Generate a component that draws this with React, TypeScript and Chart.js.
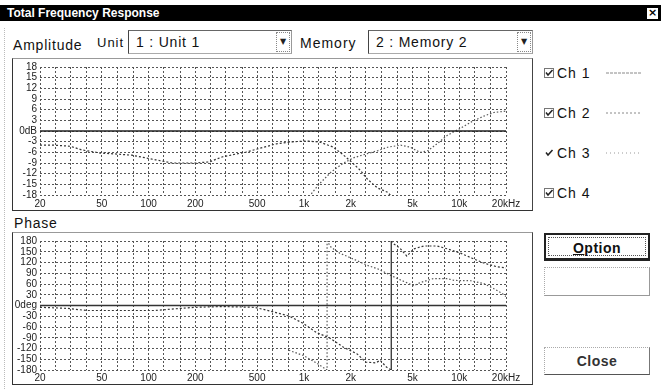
import React, { useEffect, useRef } from "react";
import { Chart, registerables } from "chart.js";

Chart.register(...registerables);

// ---------------- data ----------------
const gridFreqs = [20, 25, 31.5, 40, 50, 63, 80, 100, 125, 160, 200, 250, 315, 400, 500, 630, 800, 1000, 1250, 1600, 2000, 2500, 3150, 4000, 5000, 6300, 8000, 10000, 12500, 16000, 20000];
const freqTickFreqs = [20, 50, 100, 200, 500, 1000, 2000, 5000, 10000, 20000];
const freqTickLabels = ["20", "50", "100", "200", "500", "1k", "2k", "5k", "10k", "20kHz"];

const ampTicks = [18, 15, 12, 9, 6, 3, 0, -3, -6, -9, -12, -15, -18];
const ampTickLabels = ["18", "15", "12", "9", "6", "3", "0dB", "-3", "-6", "-9", "-12", "-15", "-18"];
const phaseTicks = [180, 150, 120, 90, 60, 30, 0, -30, -60, -90, -120, -150, -180];
const phaseTickLabels = ["180", "150", "120", "90", "60", "30", "0deg", "-30", "-60", "-90", "-120", "-150", "-180"];

// Amplitude (dB)
const ch1AmpFreq = [20, 20000];
const ch1AmpDb = [0, 0];
const ch2AmpFreq = [20, 25, 31.5, 37, 49, 63, 78, 111, 142, 200, 246, 297, 426, 666, 811, 1040, 1260, 1540, 1790, 2000, 2300, 2560, 2970, 3450, 4180];
const ch2AmpDb = [-4, -4, -4.3, -5.3, -6.2, -6.5, -6.8, -8.1, -9, -9, -8.7, -7.3, -5.9, -3.6, -3.1, -2.8, -3.1, -4.5, -6.7, -8.5, -11, -13.5, -16, -17.2, -21];
const ch3AmpFreq = [1000, 1100, 1250, 1500, 1800, 2100, 2500, 3000, 3500, 4200, 4800, 5600, 6300, 7000, 8400, 10200, 11900, 14400, 16700, 20000];
const ch3AmpDb = [-21, -18, -15, -11.5, -9, -7.5, -6.5, -5.5, -4.5, -4, -4.5, -6, -5.5, -4, -1.2, 0.8, 2.5, 4.2, 5.2, 5.6];

// Phase (deg)
const ch1PhaseFreq = [20, 20000];
const ch1PhaseDeg = [0, 0];
const ch2PhaseFreq = [20, 30, 40, 50, 80, 110, 150, 200, 300, 480, 600, 810, 990, 1200, 1470, 1790, 2200, 2500, 2900, 3100, 3400, 3650, 3650, 3700, 4150, 4600, 5100, 5900, 7200, 8400, 10200, 12100, 14500, 17500, 20000];
const ch2PhaseDeg = [-5, -8, -14, -14, -14, -14, -9, -5, -3, -5, -15, -30, -50, -75, -91, -116, -135, -158, -160, -153, -172, -180, 180, 175, 160, 138, 158, 166, 166, 158, 146, 132, 118, 108, 105];
const ch3PhaseFreq = [800, 1000, 1200, 1410, 1410, 1500, 1700, 2000, 2200, 2600, 3000, 4000, 5100, 5600, 6800, 8400, 9300, 11900, 14400, 16700, 19000, 20000];
const ch3PhaseDeg = [-125, -140, -160, -180, 180, 162, 146, 133, 125, 111, 102, 75, 55, 64, 75, 75, 70, 69, 61, 47, 33, 25];

// ---------------- helpers ----------------
const uiFont = '"Liberation Sans", Arial, Helvetica, sans-serif';

function pts(xs: number[], ys: number[]) {
  return xs.map((x, i) => ({ x, y: ys[i] }));
}

function buildOptions(yTicks: number[], yLabels: string[], padTop: number, xHeight: number, xPad: number): any {
  const asc = yTicks.slice().sort((a, b) => a - b);
  const yMin = asc[0];
  const yMax = asc[asc.length - 1];
  const tickFont = { family: uiFont, size: 10 };
  return {
    responsive: true,
    maintainAspectRatio: false,
    animation: false,
    layout: { padding: { left: 0, right: 27, top: padTop, bottom: 0 } },
    plugins: { legend: { display: false }, tooltip: { enabled: false }, title: { display: false } },
    elements: { point: { radius: 0 }, line: { tension: 0 } },
    scales: {
      x: {
        type: "logarithmic",
        min: 20,
        max: 20000,
        afterBuildTicks: (s: any) => {
          s.ticks = gridFreqs.map((v) => ({ value: v }));
        },
        afterFit: (s: any) => {
          s.height = xHeight;
        },
        ticks: {
          autoSkip: false,
          maxRotation: 0,
          minRotation: 0,
          padding: xPad,
          color: "#222",
          font: tickFont,
          callback: (v: any) => {
            const i = freqTickFreqs.indexOf(Number(v));
            return i >= 0 ? freqTickLabels[i] : "";
          },
        },
        grid: { color: "#555", lineWidth: 1, drawTicks: false },
        border: { display: false, dash: [2, 2] },
      },
      y: {
        type: "linear",
        min: yMin,
        max: yMax,
        afterBuildTicks: (s: any) => {
          s.ticks = asc.map((v) => ({ value: v }));
        },
        afterFit: (s: any) => {
          s.width = 28;
        },
        ticks: {
          autoSkip: false,
          padding: 3,
          color: "#222",
          font: tickFont,
          callback: (v: any) => {
            const i = yTicks.indexOf(Number(v));
            return i >= 0 ? yLabels[i] : "";
          },
        },
        grid: { color: "#555", lineWidth: 1, drawTicks: false },
        border: { display: false, dash: [2, 2] },
      },
    },
  };
}

function AmpChart() {
  const ref = useRef<HTMLCanvasElement>(null);
  useEffect(() => {
    const chart = new Chart(ref.current as HTMLCanvasElement, {
      type: "line",
      data: {
        datasets: [
          { label: "Ch 1", data: pts(ch1AmpFreq, ch1AmpDb), borderColor: "#222", borderWidth: 1.5, pointRadius: 0 },
          { label: "Ch 2", data: pts(ch2AmpFreq, ch2AmpDb), borderColor: "#333", borderWidth: 1.2, borderDash: [2, 2], pointRadius: 0 },
          { label: "Ch 3", data: pts(ch3AmpFreq, ch3AmpDb), borderColor: "#555", borderWidth: 1.2, borderDash: [1.5, 2], pointRadius: 0 },
        ] as any,
      },
      options: buildOptions(ampTicks, ampTickLabels, 9, 16, 3),
    });
    return () => chart.destroy();
  }, []);
  return <canvas ref={ref} />;
}

function PhaseChart() {
  const ref = useRef<HTMLCanvasElement>(null);
  useEffect(() => {
    const chart = new Chart(ref.current as HTMLCanvasElement, {
      type: "line",
      data: {
        datasets: [
          { label: "Ch 1", data: pts(ch1PhaseFreq, ch1PhaseDeg), borderColor: "#333", borderWidth: 1.5, pointRadius: 0 },
          {
            label: "Ch 2",
            data: pts(ch2PhaseFreq, ch2PhaseDeg),
            borderColor: "#333",
            borderWidth: 1.2,
            borderDash: [2, 2],
            pointRadius: 0,
            segment: {
              borderDash: (ctx: any) => (ctx.p0.parsed.x === ctx.p1.parsed.x ? [] : undefined),
              borderColor: (ctx: any) => (ctx.p0.parsed.x === ctx.p1.parsed.x ? "#222" : undefined),
            },
          },
          { label: "Ch 3", data: pts(ch3PhaseFreq, ch3PhaseDeg), borderColor: "#555", borderWidth: 1.2, borderDash: [1.5, 2], pointRadius: 0 },
        ] as any,
      },
      options: buildOptions(phaseTicks, phaseTickLabels, 8, 15, 2),
    });
    return () => chart.destroy();
  }, []);
  return <canvas ref={ref} />;
}

const abs = (left: number, top: number, width?: number, height?: number): React.CSSProperties => ({
  position: "absolute",
  left,
  top,
  width,
  height,
  boxSizing: "border-box",
});

function Label({ text, left, top, size = 14, spacing = 0.8, bold = false }: any) {
  return (
    <div
      style={{
        ...abs(left, top),
        fontFamily: uiFont,
        fontSize: size,
        lineHeight: `${size + 2}px`,
        letterSpacing: spacing,
        fontWeight: bold ? "bold" : "normal",
        color: "#111",
        whiteSpace: "nowrap",
      }}
    >
      {text}
    </div>
  );
}

function Combo({ left, width, text }: any) {
  return (
    <div
      style={{
        ...abs(left, 30, width, 24),
        borderLeft: "1px solid #444",
        borderTop: "1px solid #666",
        borderRight: "1px solid #999",
        borderBottom: "1px solid #aaa",
      }}
    >
      <div style={{ ...abs(7, 3), fontFamily: uiFont, fontSize: 14, lineHeight: "16px", letterSpacing: 0.8, color: "#111", whiteSpace: "nowrap" }}>{text}</div>
      <div
        style={{
          ...abs(width - 17, 1, 14, 20),
          border: "1px dotted #888",
          fontSize: 8,
          lineHeight: "18px",
          textAlign: "center",
          color: "#222",
          fontFamily: "DejaVu Sans",
        }}
      >
        ▼
      </div>
    </div>
  );
}

function CheckItem({ top, text, sample, light }: any) {
  return (
    <>
      <svg style={{ ...abs(544, top - 5, 10, 10) }} width={10} height={10}>
        {!light && <rect x={0.5} y={0.5} width={9} height={9} fill="none" stroke="#777" strokeWidth={1} />}
        <polyline points="2,4.5 4,7 8.5,2" fill="none" stroke="#222" strokeWidth={1.5} />
      </svg>
      <Label text={text} left={557} top={top - 8} size={14} spacing={1} />
      {sample && (
        <svg style={{ ...abs(606, top - 2, 36, 4) }} width={36} height={4}>
          <line x1={0} y1={2} x2={35} y2={2} stroke={sample.color} strokeWidth={1} strokeDasharray={sample.dash} />
        </svg>
      )}
    </>
  );
}

export default function App() {
  return (
    <div style={{ ...abs(0, 0, 661, 389), background: "#fff", overflow: "hidden", fontFamily: uiFont }}>
      {/* left faint edge */}
      <div style={{ ...abs(4, 28, 1, 361), borderLeft: "1px dotted #bbb" }} />
      {/* title bar */}
      <div style={{ ...abs(0, 5, 661, 16), background: "#000" }} />
      <div style={{ ...abs(7, 5), color: "#fff", fontWeight: "bold", fontSize: 12, lineHeight: "16px", fontFamily: uiFont, whiteSpace: "nowrap" }}>
        Total Frequency Response
      </div>
      <div
        style={{
          ...abs(647, 8, 11, 11),
          background: "#fff",
          color: "#000",
          fontSize: 11,
          lineHeight: "10px",
          textAlign: "center",
          fontFamily: "DejaVu Sans",
          fontWeight: "bold",
        }}
      >
        ×
      </div>

      {/* header row */}
      <Label text="Amplitude" left={13} top={37} size={14} spacing={0.8} />
      <Label text="Unit" left={97} top={35} size={13} spacing={1} />
      <Combo left={128} width={164} text="1 : Unit 1" />
      <Label text="Memory" left={300} top={35} size={14} spacing={1} />
      <Combo left={368} width={165} text="2 : Memory 2" />

      {/* amplitude frame + chart */}
      <div style={{ ...abs(12, 58, 521, 153), borderLeft: "1px solid #333", borderBottom: "1px solid #333", borderRight: "1px solid #444", borderTop: "1px solid #999" }} />
      <div style={{ ...abs(12, 58, 521, 153) }}>
        <AmpChart />
      </div>

      {/* phase */}
      <Label text="Phase" left={14} top={215} size={14} spacing={0.8} />
      <div style={{ ...abs(12, 232, 521, 153), borderLeft: "1px solid #333", borderBottom: "1px solid #333", borderRight: "1px solid #444", borderTop: "1px solid #999" }} />
      <div style={{ ...abs(12, 232, 521, 153) }}>
        <PhaseChart />
      </div>

      {/* channel checkboxes */}
      <CheckItem top={73} text="Ch 1" sample={{ color: "#888", dash: "3 1" }} />
      <CheckItem top={113} text="Ch 2" sample={{ color: "#888", dash: "2 2" }} />
      <CheckItem top={153} text="Ch 3" sample={{ color: "#999", dash: "1 3" }} light />
      <CheckItem top={193} text="Ch 4" />

      {/* buttons */}
      <div style={{ ...abs(544, 233, 106, 28), border: "2px solid #222", borderRightWidth: 2, borderBottomWidth: 3 }}>
        <div style={{ ...abs(2, 2, 98, 19), border: "1px dotted #555" }} />
        <div style={{ ...abs(0, 4, 102, 18), textAlign: "center", fontFamily: uiFont, fontWeight: "bold", fontSize: 14, lineHeight: "18px", color: "#111", letterSpacing: 0.5 }}>
          <span style={{ textDecoration: "underline" }}>O</span>ption
        </div>
      </div>
      <div style={{ ...abs(544, 267, 106, 29), border: "1px dotted #aaa", borderRight: "1px solid #999", borderBottom: "1px solid #999" }} />
      <div style={{ ...abs(544, 347, 106, 28), borderLeft: "1px dotted #aaa", borderTop: "1px dotted #aaa", borderRight: "1px solid #777", borderBottom: "1px solid #555" }}>
        <div style={{ ...abs(0, 4, 104, 18), textAlign: "center", fontFamily: uiFont, fontWeight: "bold", fontSize: 14, lineHeight: "18px", color: "#333", letterSpacing: 0.5 }}>
          Close
        </div>
      </div>
    </div>
  );
}
